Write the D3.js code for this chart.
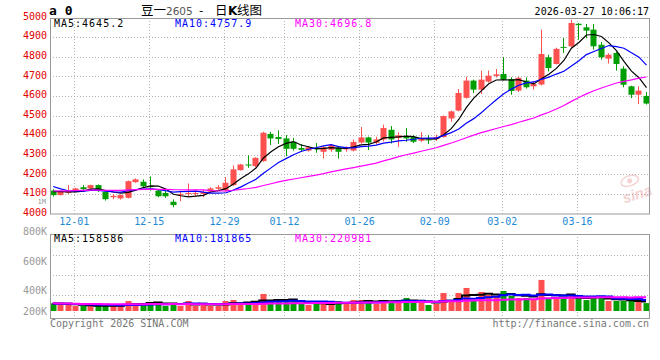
<!DOCTYPE html>
<html>
<head>
<meta charset="utf-8">
<script src="https://cdn.jsdelivr.net/npm/d3@7/dist/d3.min.js"></script>
<style>
  body { margin: 0; background: #fff; }
  svg text { font-family: "DejaVu Sans Mono", monospace; }
</style>
</head>
<body>
<div id="container"></div>
<script>
/* DATA */
const dates = [
  "11-26","11-27","11-28",
  "12-01","12-02","12-03","12-04","12-05","12-08","12-09","12-10","12-11","12-12",
  "12-15","12-16","12-17","12-18","12-19","12-22","12-23","12-24","12-25","12-26",
  "12-29","12-30","12-31",
  "01-05","01-06","01-07","01-08","01-09","01-12","01-13","01-14","01-15","01-16",
  "01-19","01-20","01-21","01-22","01-23","01-26","01-27","01-28","01-29","01-30",
  "02-02","02-03","02-04","02-05","02-06","02-09","02-10","02-11","02-12","02-13",
  "02-24","02-25","02-26","02-27",
  "03-02","03-03","03-04","03-05","03-06","03-09","03-10","03-11","03-12","03-13",
  "03-16","03-17","03-18","03-19","03-20","03-23","03-24","03-25","03-26","03-27"
];
const open = [4117,4094,4105,4111,4134,4128,4145,4111,4083,4077,4080,4160,4162,4140,4117,4105,4060,4097,4099,4102,
  4100,4111,4126,4117,4145,4221,4250,4242,4267,4406,4390,4383,4366,4334,4321,4336,4315,4325,4336,4330,
  4321,4362,4388,4361,4378,4427,4386,4394,4390,4371,4378,4380,4390,4485,4525,4590,4678,4632,4673,4702,
  4712,4686,4627,4678,4649,4658,4797,4763,4850,4853,4968,4950,4938,4861,4790,4819,4739,4649,4606,4600];
const high = [4124,4114,4145,4131,4145,4147,4148,4118,4100,4097,4168,4179,4174,4189,4122,4117,4072,4117,4153,4122,
  4122,4134,4145,4185,4245,4253,4296,4287,4417,4417,4424,4400,4386,4355,4343,4360,4343,4355,4343,4343,
  4377,4441,4392,4392,4453,4446,4414,4436,4400,4415,4400,4402,4500,4525,4635,4697,4683,4729,4729,4737,
  4797,4695,4698,4695,4675,4938,4810,4846,4895,4989,4972,4967,4967,4875,4818,4824,4751,4652,4649,4620];
const low = [4087,4092,4100,4108,4115,4126,4110,4066,4073,4071,4077,4157,4131,4117,4083,4080,4032,4063,4087,4088,
  4083,4105,4117,4111,4141,4219,4233,4237,4264,4349,4355,4293,4321,4315,4315,4310,4281,4315,4281,4315,
  4317,4357,4324,4354,4368,4357,4340,4366,4359,4366,4355,4370,4387,4468,4521,4586,4615,4610,4668,4694,
  4678,4606,4620,4637,4632,4654,4725,4760,4819,4848,4887,4895,4836,4785,4765,4729,4644,4589,4558,4556];
const close = [4094,4111,4112,4128,4124,4145,4117,4073,4090,4094,4165,4174,4139,4134,4088,4088,4043,4100,4105,4105,
  4110,4128,4134,4157,4225,4250,4245,4284,4412,4383,4380,4330,4330,4325,4338,4328,4338,4349,4315,4332,
  4365,4388,4362,4378,4436,4378,4399,4383,4366,4383,4375,4390,4497,4521,4615,4678,4632,4683,4703,4710,
  4683,4625,4692,4644,4661,4814,4742,4840,4847,4972,4961,4933,4853,4797,4810,4763,4657,4606,4627,4561];
// volume, thousand lots
const volume = [127,116,104,83,83,83,83,94,83,83,165,127,127,149,127,83,132,83,165,83,
  132,83,83,165,182,132,149,127,281,182,165,149,165,116,99,149,116,104,165,120,
  182,182,182,116,165,165,182,215,132,149,99,116,297,182,297,380,165,314,264,248,
  330,248,215,215,182,512,198,198,198,264,240,180,225,225,165,165,165,165,165,130];
// sessions before the window (only feed the moving averages), estimated from the MA lines
const prevClose = [4090,4102,4085,4098,4111,4106,4120,4095,4089,4104,4115,4108,4097,4112,4100,4094,4107,4118,4103,4111,
  4236,4205,4140,4128,4115,4110,4118,4125,4108];
const prevVolume = [190,175,160,150,140,130,125,120,118,115,120,118,115,112,118,120,116,114,118,122,
  125,120,118,116,120,118,125,122,120];

const priceTicks = [4000,4100,4200,4300,4400,4500,4600,4700,4800,4900,5000];
const volTicks = ["800K","600K","400K","200K"];
const dateTicks = ["12-01","12-15","12-29","01-12","01-26","02-09","03-02","03-16"];
const maSpecs = [
  { n: 5, color: "#000000", price: "MA5:4645.2", vol: "MA5:158586" },
  { n: 10, color: "#0000ff", price: "MA10:4757.9", vol: "MA10:181865" },
  { n: 30, color: "#ff00ff", price: "MA30:4696.8", vol: "MA30:220981" }
];

/* LAYOUT */
const width = 660, height = 360;
const main = { left: 50, right: 649, top: 18, bottom: 213.5 };
const vol = { top: 234, bottom: 318, base: 311 };
const UP = "#ff5050", DOWN = "#009e00", GRID = "#b4b4b4";

const svg = d3.select("#container").append("svg")
  .attr("width", width).attr("height", height);

const x = d3.scalePoint().domain(dates).range([52.7, 646]);
const y = d3.scaleLinear().domain([4000, 5000]).range([main.bottom, 17.5]);
const yv = d3.scaleLinear().domain([0, 1270]).range([vol.base, vol.top]);
// sina puts its volume labels on their own odd spacing
const yvLabel = d3.scaleLinear().domain([800, 600, 400, 200]).range([231, 261, 290, 311]);

function movingAvg(prev, vals, n) {
  const all = prev.concat(vals);
  return vals.map((_, i) => {
    const j = i + prev.length;
    return d3.mean(all.slice(j - n + 1, j + 1));
  });
}

// GRID
const grid = svg.append("g").attr("stroke", GRID).attr("stroke-dasharray", "1,2");
grid.selectAll(".hp").data(priceTicks.slice(1, -1)).join("line")
  .attr("x1", main.left).attr("x2", main.right)
  .attr("y1", d => Math.round(y(d)) + 0.5).attr("y2", d => Math.round(y(d)) + 0.5);
grid.selectAll(".hv").data([255.5, 275.5, 295.5]).join("line")
  .attr("x1", main.left).attr("x2", main.right)
  .attr("y1", d => d).attr("y2", d => d);
dateTicks.forEach(d => {
  const xx = Math.round(x(d) - 1.5) + 0.5;
  grid.append("line").attr("x1", xx).attr("x2", xx).attr("y1", main.top).attr("y2", main.bottom);
  grid.append("line").attr("x1", xx).attr("x2", xx).attr("y1", vol.top).attr("y2", vol.bottom);
});

// CANDLES
const idx = d3.range(dates.length);
const candles = svg.append("g");
candles.selectAll("line").data(idx).join("line")
  .attr("x1", i => Math.round(x(dates[i])) + 0.5)
  .attr("x2", i => Math.round(x(dates[i])) + 0.5)
  .attr("y1", i => y(high[i])).attr("y2", i => y(low[i]))
  .attr("stroke", i => close[i] >= open[i] ? UP : DOWN);
candles.selectAll("rect").data(idx).join("rect")
  .attr("x", i => Math.round(x(dates[i])) - 2.5)
  .attr("width", 6)
  .attr("y", i => y(Math.max(open[i], close[i])))
  .attr("height", i => Math.max(1, Math.abs(y(open[i]) - y(close[i]))))
  .attr("fill", i => close[i] >= open[i] ? UP : DOWN);

// PRICE MA LINES
const priceLine = d3.line().x((d, i) => x(dates[i]) + 0.5).y(d => y(d));
maSpecs.forEach(m => {
  svg.append("path")
    .attr("d", priceLine(movingAvg(prevClose, close, m.n)))
    .attr("fill", "none").attr("stroke", m.color).attr("stroke-width", 1.2);
});

// VOLUME BARS
svg.append("g").selectAll("rect").data(idx).join("rect")
  .attr("x", i => Math.round(x(dates[i])) - 2.5)
  .attr("width", 6)
  .attr("y", i => yv(volume[i]))
  .attr("height", i => vol.base - yv(volume[i]))
  .attr("fill", i => close[i] >= open[i] ? UP : DOWN);

const volLine = d3.line().curve(d3.curveStep).x((d, i) => x(dates[i])).y(d => yv(d));
maSpecs.forEach(m => {
  svg.append("path")
    .attr("d", volLine(movingAvg(prevVolume, volume, m.n)))
    .attr("fill", "none").attr("stroke", m.color).attr("stroke-width", 2);
});

// WATERMARK
const wm = svg.append("g").attr("transform", "translate(622,196) rotate(-18)").attr("opacity", 0.35);
wm.append("ellipse").attr("cx", 12).attr("cy", -12).attr("rx", 9).attr("ry", 5)
  .attr("fill", "none").attr("stroke", "#e08080").attr("stroke-width", 1.5);
wm.append("circle").attr("cx", 12).attr("cy", -12).attr("r", 2.5).attr("fill", "#e08080");
wm.append("text").attr("x", 0).attr("y", 8)
  .style("font-family", "Arial, 'Liberation Sans', sans-serif")
  .style("font-size", "15px").style("font-weight", "bold").style("font-style", "italic")
  .attr("fill", "#e08080").text("sina");

// BORDERS
svg.append("rect").attr("x", main.left + 0.5).attr("y", main.top + 0.5)
  .attr("width", main.right - main.left).attr("height", main.bottom - main.top)
  .attr("fill", "none").attr("stroke", "#999");
svg.append("rect").attr("x", main.left + 0.5).attr("y", vol.top + 0.5)
  .attr("width", main.right - main.left).attr("height", vol.bottom - vol.top)
  .attr("fill", "none").attr("stroke", "#999");

// AXES
const yAxis = d3.axisLeft(y).tickValues(priceTicks).tickSize(0).tickPadding(3).tickFormat(d3.format("d"));
const gy = svg.append("g").attr("transform", `translate(${main.left},-1.5)`).call(yAxis);
gy.select(".domain").remove();
gy.selectAll("text").attr("fill", "#e00000").style("font-size", "10px")
  .style("font-family", "'DejaVu Sans Mono', monospace");

const vAxis = d3.axisLeft(yvLabel).tickValues([800, 600, 400, 200]).tickSize(0).tickPadding(3)
  .tickFormat((d, i) => volTicks[i]);
const gv = svg.append("g").attr("transform", `translate(${main.left},0)`).call(vAxis);
gv.select(".domain").remove();
gv.selectAll("text").attr("fill", "#999").style("font-size", "10px")
  .style("font-family", "'DejaVu Sans Mono', monospace");

const xAxis = d3.axisBottom(x).tickValues(dateTicks).tickSize(0).tickPadding(0);
const gx = svg.append("g").attr("transform", `translate(-1.5,${main.bottom + 4})`).call(xAxis);
gx.select(".domain").remove();
gx.selectAll("text").attr("fill", "#1e8ad6").style("font-size", "10px")
  .style("font-family", "'DejaVu Sans Mono', monospace");

svg.append("text").attr("x", 46).attr("y", 204.3).attr("text-anchor", "end")
  .attr("fill", "#999").style("font-size", "7px").text("1M");

// LEGENDS
const legendX = [54, 175, 295];
maSpecs.forEach((m, k) => {
  svg.append("text").attr("x", legendX[k]).attr("y", 27).attr("fill", m.color)
    .style("font-size", "10px").style("letter-spacing", "1px").text(m.price);
  svg.append("text").attr("x", legendX[k]).attr("y", 241.5).attr("fill", m.color)
    .style("font-size", "10px").style("letter-spacing", "1px").text(m.vol);
});

// HEADER / FOOTER
svg.append("text").attr("x", 49).attr("y", 15)
  .style("font-size", "13px").style("font-weight", "bold").text("a 0");
const cjk = "'Noto Sans CJK SC', sans-serif";
const titleParts = [
  { x: 141, text: "豆一", font: cjk, size: "12.5px", fill: "#000", weight: "normal" },
  { x: 166, text: "2605", font: "'DejaVu Sans', sans-serif", size: "10.5px", fill: "#555", weight: "normal" },
  { x: 199, text: "-", font: cjk, size: "12.5px", fill: "#000", weight: "normal" },
  { x: 215, text: "日", font: cjk, size: "12.5px", fill: "#000", weight: "normal" },
  { x: 228, text: "K", font: "'DejaVu Sans', sans-serif", size: "12px", fill: "#000", weight: "bold" },
  { x: 237, text: "线图", font: cjk, size: "12.5px", fill: "#000", weight: "normal" }
];
svg.append("g").selectAll("text").data(titleParts).join("text")
  .attr("x", d => d.x).attr("y", 15)
  .attr("fill", d => d.fill)
  .style("font-family", d => d.font).style("font-size", d => d.size)
  .style("font-weight", d => d.weight)
  .text(d => d.text);

svg.append("text").attr("x", 649).attr("y", 15).attr("text-anchor", "end")
  .style("font-size", "10px").text("2026-03-27 10:06:17");
svg.append("text").attr("x", 50).attr("y", 327).attr("fill", "#777")
  .style("font-size", "10px").text("Copyright 2026 SINA.COM");
svg.append("text").attr("x", 649).attr("y", 327).attr("text-anchor", "end").attr("fill", "#777")
  .style("font-size", "10px").text("http://finance.sina.com.cn");
</script>
</body>
</html>
